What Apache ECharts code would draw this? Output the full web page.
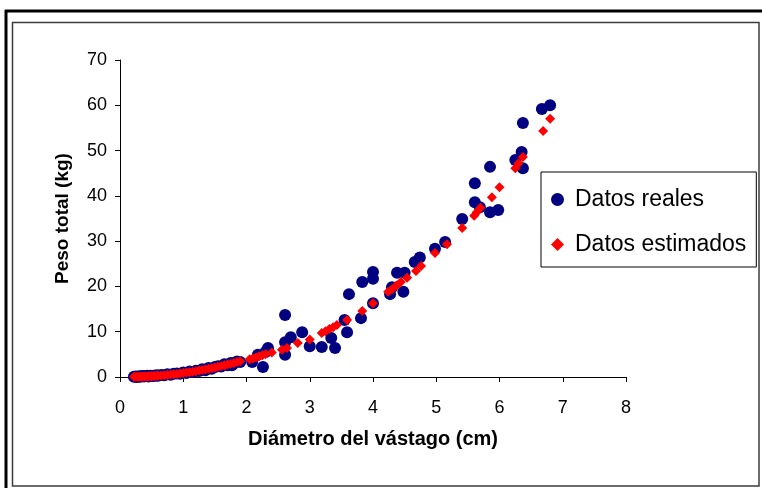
<!DOCTYPE html>
<html>
<head>
<meta charset="utf-8">
<script src="https://cdn.jsdelivr.net/npm/echarts@6/dist/echarts.min.js"></script>
<style>
  html, body { margin: 0; padding: 0; background: #fff; }
  #chart { width: 762px; height: 488px; }
</style>
</head>
<body>
<div id="chart"></div>
<script>
// Datos reales: [diámetro (cm), peso (kg)]
const datosReales = [
  [0.22, 0.05], [0.25, 0.1], [0.27, 0.0], [0.3, 0.15], [0.32, 0.05], [0.35, 0.2],
  [0.38, 0.1], [0.4, 0.2], [0.43, 0.25], [0.45, 0.1], [0.48, 0.3], [0.5, 0.2],
  [0.53, 0.3], [0.55, 0.25], [0.58, 0.4], [0.6, 0.3], [0.65, 0.45], [0.7, 0.4],
  [0.75, 0.6], [0.8, 0.5], [0.85, 0.7], [0.9, 0.8], [0.95, 0.7], [1.0, 1.0],
  [1.05, 0.9], [1.1, 1.2], [1.15, 1.1], [1.2, 1.4], [1.25, 1.3], [1.3, 1.7],
  [1.35, 1.5], [1.4, 2.0], [1.45, 1.8], [1.5, 2.2], [1.55, 2.4], [1.6, 2.3],
  [1.65, 2.8], [1.7, 2.6], [1.75, 3.1], [1.77, 2.6], [1.8, 3.0], [1.85, 3.4],
  [1.9, 3.3], [2.09, 3.3], [2.18, 4.9], [2.26, 2.2], [2.3, 5.5], [2.34, 6.4],
  [2.61, 13.7], [2.61, 7.7], [2.61, 4.9], [2.7, 8.8], [2.88, 9.9], [3.0, 6.8],
  [3.19, 6.6], [3.34, 8.6], [3.4, 6.4], [3.59, 9.9], [3.55, 12.6], [3.62, 18.3],
  [3.81, 13.0], [3.83, 21.0], [4.0, 21.7], [4.0, 23.2], [4.0, 16.3], [4.27, 18.3],
  [4.3, 19.8], [4.38, 23.0], [4.5, 23.0], [4.48, 18.8], [4.66, 25.4], [4.74, 26.4],
  [4.98, 28.3], [5.14, 29.8], [5.41, 34.9], [5.61, 42.8], [5.61, 38.6], [5.69, 37.5],
  [5.85, 36.4], [5.98, 36.9], [5.85, 46.4], [6.25, 47.9], [6.35, 49.7], [6.37, 46.1],
  [6.37, 56.1], [6.67, 59.2], [6.8, 60.0]
];

// Datos estimados: [diámetro (cm), peso (kg)]
const datosEstimados = [
  [0.22, 0.03], [0.25, 0.04], [0.28, 0.05], [0.3, 0.06], [0.33, 0.07], [0.35, 0.08],
  [0.38, 0.1], [0.4, 0.11], [0.43, 0.13], [0.45, 0.15], [0.48, 0.17], [0.5, 0.19],
  [0.53, 0.21], [0.55, 0.23], [0.58, 0.26], [0.6, 0.28], [0.65, 0.33], [0.7, 0.39],
  [0.75, 0.46], [0.8, 0.53], [0.85, 0.61], [0.9, 0.69], [0.95, 0.78], [1.0, 0.87],
  [1.05, 0.97], [1.1, 1.07], [1.15, 1.18], [1.2, 1.29], [1.25, 1.41], [1.3, 1.54],
  [1.35, 1.67], [1.4, 1.81], [1.45, 1.95], [1.5, 2.1], [1.55, 2.25], [1.6, 2.41],
  [1.65, 2.58], [1.7, 2.75], [1.75, 2.93], [1.8, 3.11], [1.85, 3.3], [1.9, 3.5],
  [2.05, 3.9], [2.1, 4.1], [2.15, 4.3], [2.2, 4.6], [2.25, 4.8], [2.3, 5.0],
  [2.4, 5.4], [2.56, 6.0], [2.64, 6.4], [2.81, 7.5], [3.0, 8.3], [3.19, 9.7],
  [3.25, 10.1], [3.31, 10.6], [3.37, 11.0], [3.43, 11.5], [3.59, 12.6], [3.83, 14.6],
  [4.0, 16.3], [4.24, 18.8], [4.3, 19.4], [4.37, 20.2], [4.44, 21.0], [4.54, 21.9],
  [4.68, 23.4], [4.76, 24.5], [4.98, 27.4], [5.17, 29.3], [5.41, 32.9], [5.6, 35.6],
  [5.64, 36.4], [5.7, 37.4], [5.88, 39.7], [6.0, 41.9], [6.25, 46.1], [6.3, 47.2],
  [6.37, 48.6], [6.69, 54.3], [6.8, 57.0]
];

const nombresSeries = ["Datos reales", "Datos estimados"];

const chart = echarts.init(document.getElementById("chart"));

const option = {
  backgroundColor: "#fff",
  animation: false,
  textStyle: { fontFamily: "Liberation Sans, Arial, sans-serif" },
  grid: { left: 120, top: 60, right: 136, bottom: 111 },
  graphic: [
    // marco exterior
    { type: "line", shape: { x1: 5, y1: 11, x2: 762, y2: 11 }, style: { stroke: "#000", lineWidth: 3 } },
    { type: "line", shape: { x1: 6, y1: 10, x2: 6, y2: 488 }, style: { stroke: "#000", lineWidth: 3 } },
    // marco interior
    { type: "rect", shape: { x: 12.5, y: 22.5, width: 746.5, height: 463.5 },
      style: { fill: null, stroke: "#3c3c3c", lineWidth: 1.5 } }
  ],
  legend: {
    orient: "vertical",
    left: 541,
    top: 172,
    padding: [16, 10, 11, 10],
    itemGap: 22,
    itemWidth: 13,
    itemHeight: 13,
    borderColor: "#000",
    borderWidth: 1,
    data: [
      { name: nombresSeries[0], icon: "circle" },
      { name: nombresSeries[1], icon: "diamond" }
    ],
    textStyle: { fontSize: 23, color: "#000", padding: [0, 0, 0, 6] }
  },
  xAxis: {
    type: "value",
    min: 0,
    max: 8,
    interval: 1,
    name: "Diámetro del vástago (cm)",
    nameLocation: "middle",
    nameGap: 52,
    nameTextStyle: { fontSize: 20, fontWeight: "bold", color: "#000" },
    axisLine: { show: true, onZero: false, lineStyle: { color: "#000", width: 1 } },
    axisTick: { show: true, inside: false, length: 5, lineStyle: { color: "#000" } },
    axisLabel: { fontSize: 18, color: "#000", margin: 22 },
    splitLine: { show: false }
  },
  yAxis: {
    type: "value",
    min: 0,
    max: 70,
    interval: 10,
    name: "Peso total (kg)",
    nameLocation: "middle",
    nameGap: 48,
    nameTextStyle: { fontSize: 19, fontWeight: "bold", color: "#000" },
    axisLine: { show: true, onZero: false, lineStyle: { color: "#000", width: 1 } },
    axisTick: { show: true, inside: false, length: 5, lineStyle: { color: "#000" } },
    axisLabel: { fontSize: 18, color: "#000", margin: 13 },
    splitLine: { show: false }
  },
  series: [
    {
      name: nombresSeries[0],
      type: "scatter",
      symbol: "circle",
      symbolSize: 12,
      itemStyle: { color: "#000080", opacity: 1 },
      data: datosReales,
      z: 2
    },
    {
      name: nombresSeries[1],
      type: "scatter",
      symbol: "diamond",
      symbolSize: 10,
      itemStyle: { color: "#ff0000", opacity: 1 },
      data: datosEstimados,
      z: 3
    }
  ]
};

chart.setOption(option);
</script>
</body>
</html>
